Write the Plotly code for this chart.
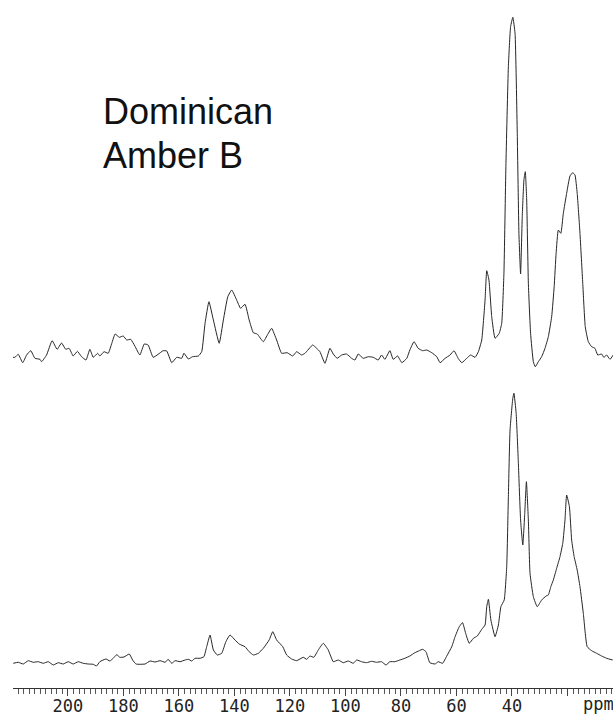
import plotly.graph_objects as go

# 13C CP/MAS spectra of Dominican amber B: chemical shift (ppm) and intensity (a.u.)
upper_ppm = [219.9, 219.1, 217.9, 216.3, 214.9, 213.4, 211.9, 210.1, 209.5, 207.7,
             205.7, 203.9, 202.3, 200.8, 199.6, 198.1, 196.6, 195.1, 193.5, 192.1,
             190.9, 189.3, 188.5, 187.0, 185.5, 184.2, 183.0, 181.5, 180.1, 178.8,
             177.4, 175.9, 174.1, 172.5, 171.1, 169.3, 167.5, 165.7, 164.4, 162.6,
             160.8, 159.0, 158.2, 156.6, 155.1, 153.0, 151.8, 150.6, 149.2, 147.6,
             145.5, 144.0, 142.4, 141.0, 139.2, 137.8, 136.2, 134.7, 133.2, 131.8,
             129.6, 128.0, 126.6, 124.8, 123.0, 121.0, 119.0, 117.6, 115.8, 114.6,
             111.8, 110.4, 109.2, 107.4, 105.6, 104.4, 103.0, 101.4, 99.6, 97.8,
             96.6, 95.4, 93.6, 91.8, 90.0, 88.2, 87.0, 85.8, 84.0, 82.8,
             81.2, 79.7, 77.9, 76.8, 75.3, 73.8, 72.2, 70.7, 68.9, 67.1,
             65.9, 64.1, 62.3, 60.9, 59.4, 58.1, 56.3, 54.9, 53.3, 52.1,
             50.9, 49.7, 49.1, 48.3, 47.3, 46.1, 44.6, 43.7, 42.9, 42.2,
             41.3, 40.5, 39.7, 38.9, 38.1, 37.5, 36.9, 36.3, 35.7, 35.2,
             34.7, 34.1, 33.3, 32.3, 31.6, 30.5, 29.3, 28.1, 26.9, 25.7,
             24.8, 24.1, 23.3, 22.4, 21.5, 20.3, 19.1, 18.1, 17.3, 16.5,
             15.5, 14.5, 13.6, 12.5, 11.3, 10.1, 9.1, 7.7, 6.9, 5.9,
             4.7, 3.5]
upper_int = [-0.3, -0.3, 2.7, -5.7, 2.0, 6.3, -1.3, -2.3, -4.7, 2.0,
             16.3, 7.7, 14.0, 7.7, 8.7, 1.0, 5.7, 0.3, -3.0, 7.7,
             -0.3, 3.7, 1.0, 5.3, 3.7, 13.7, 23.0, 19.7, 21.0, 17.0,
             17.7, 11.0, 2.0, 13.0, 12.0, -0.3, 2.7, 6.3, 6.0, -5.7,
             -0.3, -1.3, 3.7, -2.0, 0.3, 1.0, 5.3, 33.7, 55.3, 37.0,
             13.7, 37.0, 60.3, 67.0, 57.0, 48.7, 52.7, 37.0, 24.3, 23.0,
             15.3, 22.7, 28.7, 17.0, 3.7, 4.3, 1.0, 5.3, 2.0, 3.7,
             12.0, 8.7, 5.3, -6.3, 8.7, 3.0, -1.3, 2.0, 3.0, -1.3,
             -3.0, 3.0, -1.3, 0.3, -0.3, -3.0, 2.0, -2.3, 6.3, -2.3,
             1.0, -5.7, -1.3, 7.0, 15.3, 8.7, 6.3, 7.0, 4.3, 0.3,
             -5.7, -1.3, 2.0, 6.3, -1.3, -5.7, -1.3, 2.0, -0.3, 5.3,
             17.0, 57.0, 86.3, 77.0, 40.3, 18.7, 23.7, 33.7, 83.7, 190.3,
             290.3, 330.3, 339.7, 323.7, 223.7, 123.7, 83.0, 140.3, 177.0, 185.3,
             157.0, 73.7, 23.7, -4.7, -9.7, -4.7, 0.3, 8.7, 20.3, 40.3,
             70.3, 103.7, 127.0, 123.7, 143.7, 163.7, 181.0, 184.3, 182.0, 163.7,
             123.7, 73.7, 30.3, 15.3, 10.3, 8.7, 2.0, 3.0, -0.3, 2.0,
             -2.3, 2.0]

lower_ppm = [219.7, 217.9, 216.1, 214.3, 212.5, 210.7, 208.9, 207.1, 205.3, 203.5,
             201.7, 199.9, 198.1, 196.3, 194.5, 192.7, 190.9, 189.7, 188.5, 186.3,
             184.9, 183.7, 182.4, 181.3, 179.8, 177.9, 176.7, 175.5, 174.1, 172.2,
             170.4, 168.6, 166.8, 165.0, 163.9, 162.6, 161.4, 159.6, 157.8, 156.6,
             155.4, 154.2, 152.4, 151.0, 150.0, 148.8, 147.6, 146.2, 144.6, 143.1,
             141.6, 139.8, 138.3, 136.2, 134.7, 133.2, 131.4, 129.6, 127.5, 126.2,
             124.8, 122.6, 121.2, 119.4, 117.6, 115.2, 114.0, 112.8, 111.4, 109.8,
             108.0, 106.2, 104.4, 102.6, 100.8, 99.0, 97.2, 96.0, 94.2, 92.4,
             90.6, 88.8, 87.0, 85.4, 84.0, 82.2, 80.4, 78.6, 76.8, 75.0,
             73.4, 72.2, 71.0, 69.6, 67.7, 66.6, 65.0, 63.5, 61.7, 60.5,
             59.0, 57.8, 56.7, 55.4, 53.9, 52.5, 50.9, 49.7, 49.1, 48.5,
             47.6, 46.1, 44.9, 44.0, 42.8, 41.9, 41.3, 40.7, 39.7, 39.3,
             38.5, 37.7, 36.9, 36.1, 35.4, 34.8, 34.1, 33.5, 32.3, 30.9,
             29.3, 27.7, 26.9, 26.0, 25.1, 23.9, 22.7, 21.7, 20.9, 20.3,
             19.3, 18.5, 17.6, 16.5, 15.5, 14.3, 12.9, 11.3, 9.5, 7.7,
             5.9, 3.7]
lower_int = [-3.3, -2.3, -4.0, -0.7, -2.3, -1.7, -3.3, -1.7, -5.0, -2.7,
             -4.0, -1.7, -4.0, -1.7, -3.3, -4.0, -4.3, -6.0, -1.7, 1.0,
             -1.0, 1.7, 5.3, 2.7, 3.0, 6.0, 0.0, -4.0, -4.3, -4.0,
             -1.0, -2.0, -0.7, -2.3, 0.7, -3.3, -0.7, -1.7, 0.0, 0.7,
             -1.0, 1.7, 1.7, 3.3, 13.3, 25.0, 10.0, 5.0, 6.7, 18.3,
             25.0, 20.0, 16.0, 13.3, 8.3, 5.0, 6.7, 11.7, 20.0, 28.3,
             20.0, 13.3, 5.0, 1.0, -0.7, 2.7, 0.7, 4.0, 2.7, 10.0,
             16.7, 10.0, -1.7, 0.0, -2.7, -1.0, -3.3, 0.0, -1.7, -2.7,
             -1.3, -2.3, -1.7, -5.0, -1.7, -1.7, 0.0, 1.7, 4.0, 7.3,
             9.3, 10.7, 8.3, -2.7, -4.0, -1.7, -3.3, 4.0, 13.3, 23.3,
             33.3, 37.3, 26.7, 16.7, 21.7, 24.0, 30.7, 35.0, 53.3, 60.7,
             40.0, 23.3, 35.0, 53.3, 60.0, 93.3, 163.3, 230.0, 261.7, 266.7,
             246.7, 196.7, 140.0, 115.0, 146.7, 178.3, 140.0, 86.7, 63.3, 53.3,
             60.0, 64.0, 65.0, 73.3, 80.0, 91.7, 103.3, 116.7, 140.0, 165.0,
             153.3, 120.0, 103.3, 90.0, 73.3, 46.7, 13.3, 9.3, 6.7, 4.0,
             1.7, 0.0]

major_ticks = [200, 180, 160, 140, 120, 100, 80, 60, 40, 20]
major_labels = ["200", "180", "160", "140", "120", "100", "80", "60", "40", ""]
axis_unit = "ppm"
sample_lines = ["Dominican", "Amber B"]

# vertical stacking of the two spectra (plot units)
UPPER_BASE = 331
LOWER_BASE = 28
line_style = dict(color="#262626", width=1, shape="spline", smoothing=0.4)
tick_font = dict(family="DejaVu Sans Mono", size=17, color="#222")

fig = go.Figure()
fig.add_trace(go.Scatter(x=upper_ppm, y=[UPPER_BASE + v for v in upper_int],
                         mode="lines", line=line_style, hoverinfo="skip"))
fig.add_trace(go.Scatter(x=lower_ppm, y=[LOWER_BASE + v for v in lower_int],
                         mode="lines", line=line_style, hoverinfo="skip"))

fig.update_layout(
    width=613, height=715,
    margin=dict(l=13, r=0, t=0, b=27, autoexpand=False),
    paper_bgcolor="white", plot_bgcolor="white",
    showlegend=False,
    xaxis=dict(
        range=[219.8, 3.6], automargin=False,
        showgrid=False, zeroline=False,
        showline=True, linecolor="#333", linewidth=1,
        ticks="outside", ticklen=7, tickwidth=1, tickcolor="#444",
        tickvals=major_ticks, ticktext=major_labels,
        tickfont=tick_font, ticklabelstandoff=-4,
        minor=dict(ticks="outside", ticklen=5, tickwidth=1, tickcolor="#555", dtick=2, tick0=0),
    ),
    yaxis=dict(range=[0, 688], visible=False, showgrid=False, zeroline=False, automargin=False),
)

# unit label sits in the slot of the 20 ppm tick label, nudged toward the right edge
fig.add_annotation(x=9.0, xref="x", y=0, yref="paper", yanchor="bottom", yshift=-27,
                   text=axis_unit, showarrow=False, borderpad=0, font=tick_font)

fig.add_annotation(x=0.146, xref="paper", y=0.838, yref="paper", xanchor="left", yanchor="middle",
                   text=sample_lines[0], showarrow=False,
                   font=dict(family="Liberation Sans", size=36, color="#111"))
fig.add_annotation(x=0.146, xref="paper", y=0.774, yref="paper", xanchor="left", yanchor="middle",
                   text=sample_lines[1], showarrow=False,
                   font=dict(family="Liberation Sans", size=36, color="#111"))

fig.write_html("out.html")
